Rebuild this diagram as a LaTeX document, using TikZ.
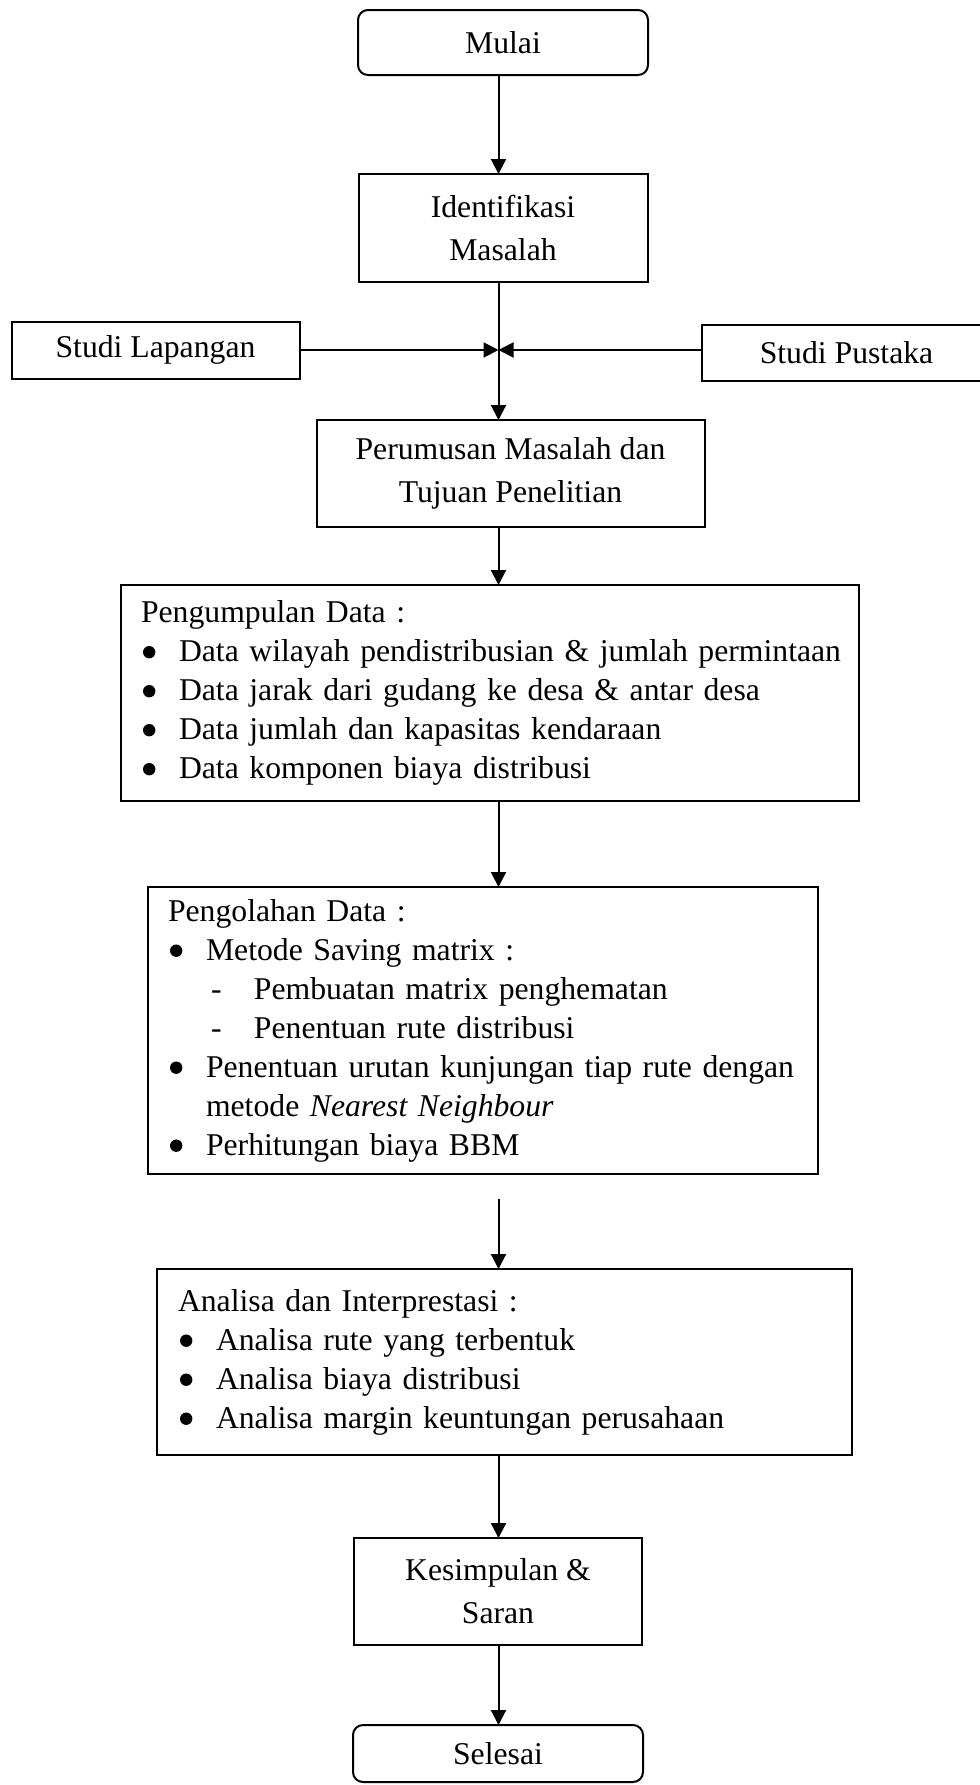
\documentclass[tikz,border=0pt]{standalone}
\usepackage{fontspec}
\setmainfont{Liberation Serif}
\usetikzlibrary{arrows.meta,positioning}

\newcommand{\titik}{\tikz[baseline=0pt]\fill (3.2pt,4.7pt) circle (3.1pt);}
\newcommand{\butir}[1]{\makebox[19pt][l]{\hspace{1pt}\titik}\mbox{#1}}
\newcommand{\subbutir}[1]{\hspace*{21.5pt}\makebox[21.5pt][l]{-}\mbox{#1}}

\begin{document}
\begin{tikzpicture}[font=\fontsize{15.85}{21.5}\selectfont, node distance=40pt]
    \tikzstyle{kotak}=[draw, line width=1pt, outer sep=0pt, align=center, inner sep=4pt]
    \tikzstyle{terminal}=[kotak, rounded corners=5pt]
    \tikzstyle{daftar}=[kotak, align=left, inner xsep=10pt,
      font=\fontsize{15.85}{19.5}\selectfont]
    \tikzstyle{arrow}=[-{Triangle[length=7.5pt,width=7.5pt]}, line width=1pt]

    \useasboundingbox (0,0) rectangle (490pt,-892.5pt);

    \node[terminal, minimum width=145pt, minimum height=32.5pt] (mulai) at (251.5pt,-21.25pt) {Mulai};

    \node[kotak, minimum width=144.5pt, minimum height=54pt, below=49.5pt of mulai] (ident)
      {Identifikasi\\ Masalah};

    \coordinate[below=34pt of ident, xshift=-2.25pt] (mid);

    \node[kotak, minimum width=144pt, minimum height=28.5pt, left=99.5pt of mid] (lapangan)
      {Studi Lapangan};
    \node[kotak, minimum width=145pt, minimum height=28pt, right=101.5pt of mid, yshift=-1.5pt] (pustaka)
      {Studi Pustaka};

    \node[kotak, minimum width=194pt, minimum height=53.5pt, below=69pt of ident, xshift=3.75pt] (rumus)
      {Perumusan Masalah dan\\ Tujuan Penelitian};

    \node[daftar, minimum height=108pt, text width=349pt, below=29pt of rumus, xshift=-10.25pt] (kumpul)
      {Pengumpulan Data :\\
       \butir{Data wilayah pendistribusian \& jumlah permintaan}\\
       \butir{Data jarak dari gudang ke desa \& antar desa}\\
       \butir{Data jumlah dan kapasitas kendaraan}\\
       \butir{Data komponen biaya distribusi}};

    \node[daftar, minimum height=143.5pt, text width=315pt, below=43pt of kumpul, xshift=-3.5pt] (olah)
      {Pengolahan Data :\\
       \butir{Metode Saving matrix :}\\
       \subbutir{Pembuatan matrix penghematan}\\
       \subbutir{Penentuan rute distribusi}\\
       \butir{Penentuan urutan kunjungan tiap rute dengan}\\
       \hspace*{19pt}metode \textit{Nearest Neighbour}\\
       \butir{Perhitungan biaya BBM}};

    \node[daftar, minimum height=93pt, text width=326.5pt, inner xsep=10.5pt, below=47.5pt of olah, xshift=10.75pt] (analisa)
      {Analisa dan Interprestasi :\\
       \butir{Analisa rute yang terbentuk}\\
       \butir{Analisa biaya distribusi}\\
       \butir{Analisa margin keuntungan perusahaan}};

    \node[kotak, minimum width=144pt, minimum height=53.5pt, below=41.5pt of analisa, xshift=-3.25pt] (simpul)
      {Kesimpulan \&\\ Saran};

    \node[terminal, minimum width=145pt, minimum height=28.5pt, below=40pt of simpul] (selesai) {Selesai};

    \coordinate (celah) at ([yshift=-12.5pt]olah.south);

    \draw[arrow] (mulai.south -| mid) -- (ident.north -| mid);
    \draw[line width=1pt] (ident.south -| mid) -- (mid);
    \draw[arrow] (lapangan) -- (mid);
    \draw[arrow] (pustaka.west |- mid) -- (mid);
    \draw[arrow] (mid) -- (rumus.north -| mid);
    \draw[arrow] (rumus.south -| mid) -- (kumpul.north -| mid);
    \draw[arrow] (kumpul.south -| mid) -- (olah.north -| mid);
    \draw[arrow] (celah -| mid) -- (analisa.north -| mid);
    \draw[arrow] (analisa.south -| mid) -- (simpul.north -| mid);
    \draw[arrow] (simpul.south -| mid) -- (selesai.north -| mid);
\end{tikzpicture}
\end{document}
